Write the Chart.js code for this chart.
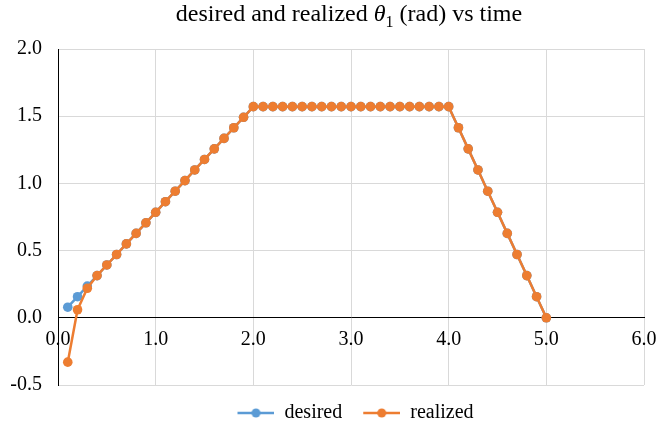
<!DOCTYPE html>
<html>
<head>
<meta charset="utf-8">
<script src="https://cdn.jsdelivr.net/npm/chart.js@4.4.1/dist/chart.umd.min.js"></script>
<style>
  html, body { margin: 0; padding: 0; background: #fff; }
  #wrap { position: relative; width: 670px; height: 425px; }
  #title {
    position: absolute; left: 0; top: 0; width: 698px; text-align: center;
    font-family: 'Liberation Serif', 'Times New Roman', serif; font-size: 24px; color: #000;
  }
  #title sub { font-size: 16px; }
</style>
</head>
<body>
<div id="wrap">
  <div id="title">desired and realized <i>θ</i><sub>1</sub> (rad) vs time</div>
  <canvas id="chart" width="670" height="425"></canvas>
</div>
<script>
// time (s)
var times = [0.1, 0.2, 0.3, 0.4, 0.5, 0.6, 0.7, 0.8, 0.9, 1.0,
  1.1, 1.2, 1.3, 1.4, 1.5, 1.6, 1.7, 1.8, 1.9, 2.0,
  2.1, 2.2, 2.3, 2.4, 2.5, 2.6, 2.7, 2.8, 2.9, 3.0,
  3.1, 3.2, 3.3, 3.4, 3.5, 3.6, 3.7, 3.8, 3.9, 4.0,
  4.1, 4.2, 4.3, 4.4, 4.5, 4.6, 4.7, 4.8, 4.9, 5.0];

var desired = [0.079, 0.157, 0.236, 0.314, 0.393, 0.471, 0.550, 0.628, 0.707, 0.785,
  0.864, 0.942, 1.021, 1.100, 1.178, 1.257, 1.335, 1.414, 1.492, 1.571,
  1.571, 1.571, 1.571, 1.571, 1.571, 1.571, 1.571, 1.571, 1.571, 1.571,
  1.571, 1.571, 1.571, 1.571, 1.571, 1.571, 1.571, 1.571, 1.571, 1.571,
  1.414, 1.257, 1.100, 0.942, 0.785, 0.628, 0.471, 0.314, 0.157, 0.0];

var realized = [-0.33, 0.06, 0.22, 0.314, 0.393, 0.471, 0.550, 0.628, 0.707, 0.785,
  0.864, 0.942, 1.021, 1.100, 1.178, 1.257, 1.335, 1.414, 1.492, 1.571,
  1.571, 1.571, 1.571, 1.571, 1.571, 1.571, 1.571, 1.571, 1.571, 1.571,
  1.571, 1.571, 1.571, 1.571, 1.571, 1.571, 1.571, 1.571, 1.571, 1.571,
  1.414, 1.257, 1.100, 0.942, 0.785, 0.628, 0.471, 0.314, 0.157, 0.0];

var xTicks = [0, 1, 2, 3, 4, 5, 6];
var yTicks = [-0.5, 0, 0.5, 1.0, 1.5, 2.0];

var blue = '#5B9BD5';
var orange = '#ED7D31';
var serif = "'Liberation Serif', 'Times New Roman', serif";

function toPoints(ys) {
  return times.map(function (t, i) { return { x: t, y: ys[i] }; });
}

// legend marker: short line with a dot, 11px blank on the left as item gap
function legendIcon(color) {
  var c = document.createElement('canvas');
  c.width = 48; c.height = 12;
  var g = c.getContext('2d');
  g.strokeStyle = color; g.lineWidth = 2.5;
  g.beginPath(); g.moveTo(11, 6); g.lineTo(48, 6); g.stroke();
  g.fillStyle = color;
  g.beginPath(); g.arc(29.5, 6, 4.5, 0, Math.PI * 2); g.fill();
  return c;
}
var icons = [legendIcon(blue), legendIcon(orange)];

function series(label, ys, color, order) {
  return {
    label: label,
    data: toPoints(ys),
    order: order,
    borderColor: color,
    backgroundColor: color,
    borderWidth: 2.5,
    pointRadius: 4.8,
    pointBorderWidth: 0,
    pointBackgroundColor: color,
    tension: 0
  };
}

// move the legend to where excel puts it
var legendShift = {
  id: 'legendShift',
  afterLayout: function (chart) {
    var lg = chart.legend;
    var h = lg.bottom - lg.top;
    lg.top = 393;
    lg.bottom = lg.top + h;
    lg.left += 28;
    lg.right += 28;
  }
};

new Chart(document.getElementById('chart'), {
  type: 'line',
  data: {
    datasets: [
      series('desired', desired, blue, 1),
      series('realized', realized, orange, 0)
    ]
  },
  plugins: [legendShift],
  options: {
    responsive: false,
    animation: false,
    layout: { padding: { top: 49, right: 26, bottom: 0, left: 0 } },
    plugins: {
      title: { display: false },
      tooltip: { enabled: false },
      legend: {
        position: 'bottom',
        labels: {
          font: { family: serif, size: 20 },
          color: '#000',
          usePointStyle: true,
          pointStyleWidth: 48,
          padding: 10,
          generateLabels: function (chart) {
            return chart.data.datasets.map(function (ds, i) {
              return {
                text: ds.label,
                fillStyle: ds.borderColor,
                strokeStyle: ds.borderColor,
                pointStyle: icons[i],
                fontColor: '#000',
                datasetIndex: i
              };
            });
          }
        }
      }
    },
    scales: {
      x: {
        type: 'linear',
        position: { y: 0 },
        min: 0,
        max: 6,
        afterBuildTicks: function (scale) {
          scale.ticks = xTicks.map(function (v) { return { value: v }; });
        },
        ticks: {
          font: { family: serif, size: 20 },
          color: '#000',
          padding: 10,
          maxRotation: 0,
          callback: function (v) { return Number(v).toFixed(1); }
        },
        grid: { color: '#d9d9d9', drawTicks: false, lineWidth: 1 },
        border: { color: '#000', width: 1 }
      },
      y: {
        min: -0.5,
        max: 2.0,
        afterBuildTicks: function (scale) {
          scale.ticks = yTicks.map(function (v) { return { value: v }; });
        },
        afterFit: function (scale) { scale.width = 58; },
        ticks: {
          font: { family: serif, size: 20 },
          color: '#000',
          padding: 16,
          callback: function (v) { return Number(v).toFixed(1); }
        },
        grid: { color: '#d9d9d9', drawTicks: false, lineWidth: 1 },
        border: { color: '#000', width: 1 }
      }
    }
  }
});
</script>
</body>
</html>
